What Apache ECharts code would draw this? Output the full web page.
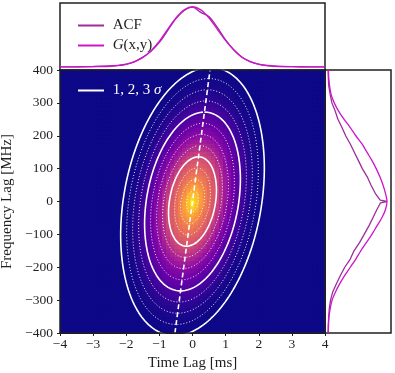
<!DOCTYPE html>
<html>
<head>
<meta charset="utf-8">
<script src="https://cdn.jsdelivr.net/npm/echarts@6/dist/echarts.min.js"></script>
<style>
  html, body { margin: 0; padding: 0; background: #fff; }
  #chart { width: 395px; height: 373px; }
</style>
</head>
<body>
<div id="chart"></div>
<script>
// top panel: profiles along time lag (ms)
const margTime = [-4, -3.5, -3, -2.5, -2.25, -2, -1.75, -1.5, -1.25, -1, -0.75, -0.5, -0.25, 0,
  0.25, 0.5, 0.75, 1, 1.25, 1.5, 1.75, 2, 2.25, 2.5, 3, 3.5, 4];
const acfTime = [0, 0.002, 0.006, 0.015, 0.025, 0.045, 0.085, 0.155, 0.25, 0.39, 0.58, 0.77, 0.9, 0.955,
  0.87, 0.8, 0.63, 0.43, 0.27, 0.155, 0.085, 0.045, 0.022, 0.012, 0.004, 0.001, 0];
const gaussTime = [0, 0.001, 0.003, 0.01, 0.02, 0.04, 0.08, 0.15, 0.26, 0.41, 0.6, 0.78, 0.91, 0.96,
  0.91, 0.78, 0.6, 0.42, 0.27, 0.15, 0.08, 0.04, 0.02, 0.01, 0.003, 0.001, 0];

// right panel: profiles along frequency lag (MHz)
const acfFreqLag = [400, 375, 350, 325, 300, 275, 250, 225, 200, 175, 150, 125, 100, 75, 50, 25, 4, 0,
  -4, -25, -50, -75, -100, -125, -150, -175, -200, -225, -250, -275, -300, -325, -350, -375, -400];
const acfFreq = [0, 0.004, 0.012, 0.035, 0.062, 0.115, 0.16, 0.225, 0.285, 0.36, 0.425, 0.49, 0.555, 0.635, 0.695, 0.765, 0.845, 0.955,
  0.85, 0.79, 0.725, 0.66, 0.585, 0.51, 0.42, 0.36, 0.27, 0.2, 0.135, 0.075, 0.04, 0.02, 0.01, 0.003, 0];
const gaussFreqLag = [400, 375, 350, 325, 300, 275, 250, 225, 200, 175, 150, 125, 100, 75, 50, 25, 0,
  -25, -50, -75, -100, -125, -150, -175, -200, -225, -250, -275, -300, -325, -350, -375, -400];
const gaussFreq = [0.005, 0.012, 0.025, 0.05, 0.1, 0.17, 0.26, 0.36, 0.45, 0.55, 0.63, 0.71, 0.78, 0.84, 0.89, 0.93, 0.955,
  0.93, 0.87, 0.79, 0.71, 0.62, 0.53, 0.45, 0.36, 0.27, 0.19, 0.12, 0.065, 0.035, 0.015, 0.007, 0.003];

// 2D fit
const fitSigmaF = 136;      // MHz
const fitSigmaTcond = 0.70; // ms, width at fixed freq lag
const fitSlope = 0.001325;  // ms per MHz (dashed line)
const contourLevels = [0.25, 0.5, 0.75, 1, 1.25, 1.5, 1.75, 2, 2.25, 2.5, 2.75, 3];
const sigmaLevels = [1, 2, 3];

// 2D ACF brightness against normalised distance from centre
const acfRadius = [0, 0.125, 0.25, 0.5, 0.75, 1, 1.25, 1.5, 1.75, 2, 2.25, 2.5, 2.75, 3, 6];
const acfLevel = [1.0, 0.9, 0.83, 0.7, 0.61, 0.52, 0.4, 0.29, 0.2, 0.13, 0.07, 0.03, 0.01, 0, 0];

const plasma = ['#0d0887', '#41049d', '#6a00a8', '#8f0da4', '#b12a90', '#cc4778',
  '#e16462', '#f2844b', '#fca636', '#fcce25', '#f0f921'];
const font = 'Liberation Serif';
const ink = '#1f1f1f';
const acfColor = '#9a2e9a';
const gColor = '#cc14cc';

function minus(v) { return v < 0 ? '\u2212' + Math.abs(v) : String(v); }

function lookup(r) {
  for (let i = 1; i < acfRadius.length; i++) {
    if (r <= acfRadius[i]) {
      const w = (r - acfRadius[i - 1]) / (acfRadius[i] - acfRadius[i - 1]);
      return acfLevel[i - 1] + w * (acfLevel[i] - acfLevel[i - 1]);
    }
  }
  return 0;
}

function dist(t, f) {
  const a = f / fitSigmaF;
  const b = (t - fitSlope * f) / fitSigmaTcond;
  return Math.sqrt(a * a + b * b);
}

function ellipse(n) {
  const pts = [];
  for (let k = 0; k <= 200; k++) {
    const th = k / 200 * 2 * Math.PI;
    const f = n * fitSigmaF * Math.cos(th);
    pts.push([fitSlope * f + n * fitSigmaTcond * Math.sin(th), f]);
  }
  return pts;
}

// image cells
const nCell = 65;
const dT = 8 / nCell, dF = 800 / nCell;
const heatData = [];
for (let i = 0; i < nCell; i++) {
  const t = -4 + (i + 0.5) * dT;
  for (let j = 0; j < nCell; j++) {
    const f = -400 + (j + 0.5) * dF;
    heatData.push([t, f, lookup(dist(t, f))]);
  }
}

const series = [{
  type: 'custom',
  name: 'image',
  xAxisIndex: 0,
  yAxisIndex: 0,
  data: heatData,
  encode: { x: 0, y: 1 },
  clip: true,
  silent: true,
  z: 1,
  renderItem: (params, api) => {
    const p = api.coord([api.value(0) - dT / 2, api.value(1) + dF / 2]);
    const s = api.size([dT, dF]);
    return {
      type: 'rect',
      shape: { x: p[0], y: p[1], width: s[0] + 1, height: s[1] + 1 },
      style: { fill: api.visual('color') }
    };
  }
}];

contourLevels.forEach(n => {
  const solid = sigmaLevels.indexOf(n) >= 0;
  series.push({
    type: 'line',
    name: solid ? '1, 2, 3 σ' : 'level',
    xAxisIndex: 0,
    yAxisIndex: 0,
    data: ellipse(n),
    symbol: 'none',
    silent: true,
    z: 5,
    itemStyle: { color: '#ffffff' },
    lineStyle: solid
      ? { color: '#ffffff', width: 1.6 }
      : { color: 'rgba(255,255,255,0.9)', width: 1, type: [1, 2] }
  });
});

series.push({
  type: 'line',
  name: 'axis',
  xAxisIndex: 0,
  yAxisIndex: 0,
  data: [[-fitSlope * 400, -400], [fitSlope * 400, 400]],
  symbol: 'none',
  silent: true,
  z: 6,
  lineStyle: { color: '#ffffff', width: 1.6, type: [5, 3] }
});

series.push({
  type: 'line', name: 'ACF', xAxisIndex: 2, yAxisIndex: 2,
  data: margTime.map((t, i) => [t, acfTime[i]]),
  symbol: 'none', smooth: 0.3,
  itemStyle: { color: acfColor },
  lineStyle: { color: acfColor, width: 1.3 }
}, {
  type: 'line', name: 'G(x,y)', xAxisIndex: 2, yAxisIndex: 2,
  data: margTime.map((t, i) => [t, gaussTime[i]]),
  symbol: 'none', smooth: 0.3,
  itemStyle: { color: gColor },
  lineStyle: { color: gColor, width: 1.3 }
}, {
  type: 'line', name: 'ACF', xAxisIndex: 3, yAxisIndex: 3,
  data: acfFreqLag.map((f, i) => [acfFreq[i], f]),
  symbol: 'none',
  itemStyle: { color: acfColor },
  lineStyle: { color: acfColor, width: 1.3 }
}, {
  type: 'line', name: 'G(x,y)', xAxisIndex: 3, yAxisIndex: 3,
  data: gaussFreqLag.map((f, i) => [gaussFreq[i], f]),
  symbol: 'none', smooth: 0.3,
  itemStyle: { color: gColor },
  lineStyle: { color: gColor, width: 1.3 }
});

const hidden = { show: false };
const frameAxis = (extra) => Object.assign({
  type: 'value', gridIndex: 0, z: 10,
  axisLine: { onZero: false, lineStyle: { color: ink, width: 1.5 } },
  axisTick: hidden, axisLabel: hidden, splitLine: hidden
}, extra);

const option = {
  animation: false,
  backgroundColor: '#ffffff',
  grid: [
    { left: 60, top: 70, width: 265, height: 263, show: true, backgroundColor: plasma[0], borderWidth: 0,
      containLabel: false, outerBoundsMode: 'none' },
    { left: 60, top: 3, width: 265, height: 67, show: true, borderColor: ink, borderWidth: 1.5,
      containLabel: false, outerBoundsMode: 'none' },
    { left: 325, top: 70, width: 66, height: 263, show: true, borderColor: ink, borderWidth: 1.5,
      containLabel: false, outerBoundsMode: 'none' }
  ],
  xAxis: [{
    type: 'value', gridIndex: 0, min: -4, max: 4, interval: 1, z: 10,
    axisLine: { onZero: false, lineStyle: { color: ink, width: 1.5 } },
    axisTick: { length: 3, lineStyle: { color: ink } },
    axisLabel: { color: ink, fontFamily: font, fontSize: 13.5, margin: 4, formatter: minus },
    splitLine: hidden,
    name: 'Time Lag [ms]', nameLocation: 'middle', nameGap: 18,
    nameTextStyle: { color: ink, fontFamily: font, fontSize: 15 }
  },
  frameAxis({ position: 'top', min: -4, max: 4 }),
  { type: 'value', gridIndex: 1, min: -4, max: 4, show: false },
  { type: 'value', gridIndex: 2, min: -0.05, max: 1.02, show: false }],
  yAxis: [{
    type: 'value', gridIndex: 0, min: -400, max: 400, interval: 100, z: 10,
    axisLine: { onZero: false, lineStyle: { color: ink, width: 1.5 } },
    axisTick: { length: 3, lineStyle: { color: ink } },
    axisLabel: { color: ink, fontFamily: font, fontSize: 13.5, margin: 7, formatter: minus },
    splitLine: hidden,
    name: 'Frequency Lag [MHz]', nameLocation: 'middle', nameGap: 39,
    nameTextStyle: { color: ink, fontFamily: font, fontSize: 15 }
  },
  frameAxis({ position: 'right', min: -400, max: 400 }),
  { type: 'value', gridIndex: 1, min: -0.05, max: 1.02, show: false },
  { type: 'value', gridIndex: 2, min: -400, max: 400, show: false }],
  visualMap: {
    type: 'continuous', show: false, seriesIndex: 0, dimension: 2, min: 0, max: 1,
    inRange: { color: plasma }
  },
  legend: [{
    data: ['ACF', 'G(x,y)'],
    orient: 'vertical', left: 72, top: 13,
    itemWidth: 26, itemHeight: 14, itemGap: 5,
    selectedMode: false,
    itemStyle: { opacity: 0 },
    formatter: n => n === 'G(x,y)' ? ' {it|G}(x,y)' : ' ' + n,
    textStyle: {
      color: ink, fontFamily: font, fontSize: 15,
      rich: { it: { fontStyle: 'italic', fontFamily: font, fontSize: 15, color: ink } }
    }
  }, {
    data: ['1, 2, 3 σ'],
    left: 72, top: 78,
    itemWidth: 26, itemHeight: 14,
    selectedMode: false,
    itemStyle: { opacity: 0 },
    formatter: () => ' 1, 2, 3 {it|σ}',
    textStyle: {
      color: '#ffffff', fontFamily: font, fontSize: 15,
      rich: { it: { fontStyle: 'italic', fontFamily: font, fontSize: 15, color: '#ffffff' } }
    }
  }],
  series: series
};

const chart = echarts.init(document.getElementById('chart'));
chart.setOption(option);
</script>
</body>
</html>
